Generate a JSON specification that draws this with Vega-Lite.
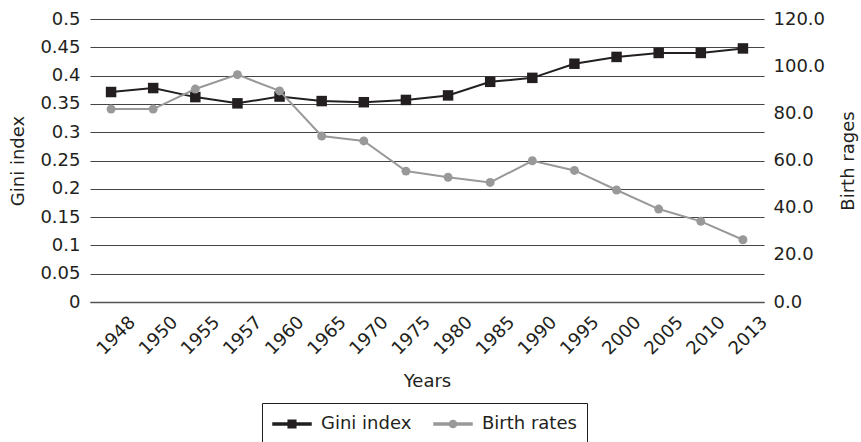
{
  "$schema": "https://vega.github.io/schema/vega-lite/v6.json",
  "width": 674,
  "height": 283,
  "autosize": "none",
  "padding": {"left": 90, "top": 19, "right": 97, "bottom": 140},
  "background": "white",
  "config": {
    "font": "DejaVu Sans",
    "view": {"stroke": null},
    "axis": {
      "labelColor": "#231f20",
      "titleColor": "#231f20",
      "titleFontWeight": "normal",
      "labelFontSize": 18,
      "titleFontSize": 18,
      "ticks": false
    },
    "legend": {"labelColor": "#231f20", "labelFontSize": 18}
  },
  "data": {
    "values": [
      {"year": "1948", "series": "Gini index", "value": 0.371},
      {"year": "1950", "series": "Gini index", "value": 0.378},
      {"year": "1955", "series": "Gini index", "value": 0.362},
      {"year": "1957", "series": "Gini index", "value": 0.351},
      {"year": "1960", "series": "Gini index", "value": 0.363},
      {"year": "1965", "series": "Gini index", "value": 0.355},
      {"year": "1970", "series": "Gini index", "value": 0.353},
      {"year": "1975", "series": "Gini index", "value": 0.357},
      {"year": "1980", "series": "Gini index", "value": 0.365},
      {"year": "1985", "series": "Gini index", "value": 0.389},
      {"year": "1990", "series": "Gini index", "value": 0.396},
      {"year": "1995", "series": "Gini index", "value": 0.421},
      {"year": "2000", "series": "Gini index", "value": 0.433},
      {"year": "2005", "series": "Gini index", "value": 0.44},
      {"year": "2010", "series": "Gini index", "value": 0.44},
      {"year": "2013", "series": "Gini index", "value": 0.448},
      {"year": "1948", "series": "Birth rates", "value": 81.8},
      {"year": "1950", "series": "Birth rates", "value": 81.8},
      {"year": "1955", "series": "Birth rates", "value": 90.3},
      {"year": "1957", "series": "Birth rates", "value": 96.4},
      {"year": "1960", "series": "Birth rates", "value": 89.5},
      {"year": "1965", "series": "Birth rates", "value": 70.4},
      {"year": "1970", "series": "Birth rates", "value": 68.3},
      {"year": "1975", "series": "Birth rates", "value": 55.5},
      {"year": "1980", "series": "Birth rates", "value": 52.9},
      {"year": "1985", "series": "Birth rates", "value": 50.7},
      {"year": "1990", "series": "Birth rates", "value": 59.9},
      {"year": "1995", "series": "Birth rates", "value": 55.8},
      {"year": "2000", "series": "Birth rates", "value": 47.5},
      {"year": "2005", "series": "Birth rates", "value": 39.4},
      {"year": "2010", "series": "Birth rates", "value": 34.2},
      {"year": "2013", "series": "Birth rates", "value": 26.4}
    ]
  },
  "encoding": {
    "x": {
      "field": "year",
      "type": "ordinal",
      "title": "Years",
      "axis": {
        "labelAngle": -45,
        "labelFontSize": 18,
        "domainColor": "#555555",
        "domainWidth": 1.5,
        "grid": false,
        "labelPadding": 11,
        "labelOffset": 15,
        "titlePadding": 14
      }
    },
    "color": {
      "field": "series",
      "type": "nominal",
      "scale": {"domain": ["Gini index", "Birth rates"], "range": ["#231f20", "#999999"]},
      "legend": {
        "orient": "none",
        "legendX": 172,
        "legendY": 384,
        "direction": "horizontal",
        "title": null,
        "strokeColor": "#231f20",
        "padding": 10,
        "symbolSize": 400,
        "symbolOffset": 9,
        "labelOffset": 18,
        "columnPadding": 19,
        "encode": {
          "symbols": {
            "update": {
              "shape": {"signal": "datum.value === 'Gini index' ? 'M-1.9,-0.1H1.9V0.1H-1.9Z M-0.38,-0.38H0.38V0.38H-0.38Z' : 'M-1.9,-0.1H1.9V0.1H-1.9Z M-0.36,0A0.36,0.36 0 1,1 0.36,0A0.36,0.36 0 1,1 -0.36,0Z'"},
              "fill": {"scale": "color", "field": "value"},
              "stroke": {"value": "transparent"}
            }
          }
        }
      }
    }
  },
  "layer": [
    {
      "transform": [{"filter": "datum.series === 'Gini index'"}],
      "mark": {"type": "line", "strokeWidth": 2, "point": {"filled": true, "shape": "square", "size": 110, "opacity": 1}},
      "encoding": {
        "y": {
          "field": "value",
          "type": "quantitative",
          "scale": {"domain": [0, 0.5]},
          "title": "Gini index",
          "axis": {
            "orient": "left",
            "values": [0, 0.05, 0.1, 0.15, 0.2, 0.25, 0.3, 0.35, 0.4, 0.45, 0.5],
            "format": "~g",
            "grid": true,
            "gridColor": "#444444",
            "gridWidth": 1.2,
            "domain": false,
            "labelPadding": 10,
            "titlePadding": 12
          }
        }
      }
    },
    {
      "transform": [{"filter": "datum.series === 'Birth rates'"}],
      "mark": {"type": "line", "strokeWidth": 2, "point": {"filled": true, "shape": "circle", "size": 80, "opacity": 1}},
      "encoding": {
        "y": {
          "field": "value",
          "type": "quantitative",
          "scale": {"domain": [0, 120]},
          "title": "Birth rages",
          "axis": {
            "orient": "right",
            "values": [0, 20, 40, 60, 80, 100, 120],
            "format": ".1f",
            "grid": false,
            "domain": false,
            "labelPadding": 9,
            "titleAngle": 270,
            "titlePadding": 33
          }
        }
      }
    }
  ],
  "resolve": {"scale": {"y": "independent"}}
}
